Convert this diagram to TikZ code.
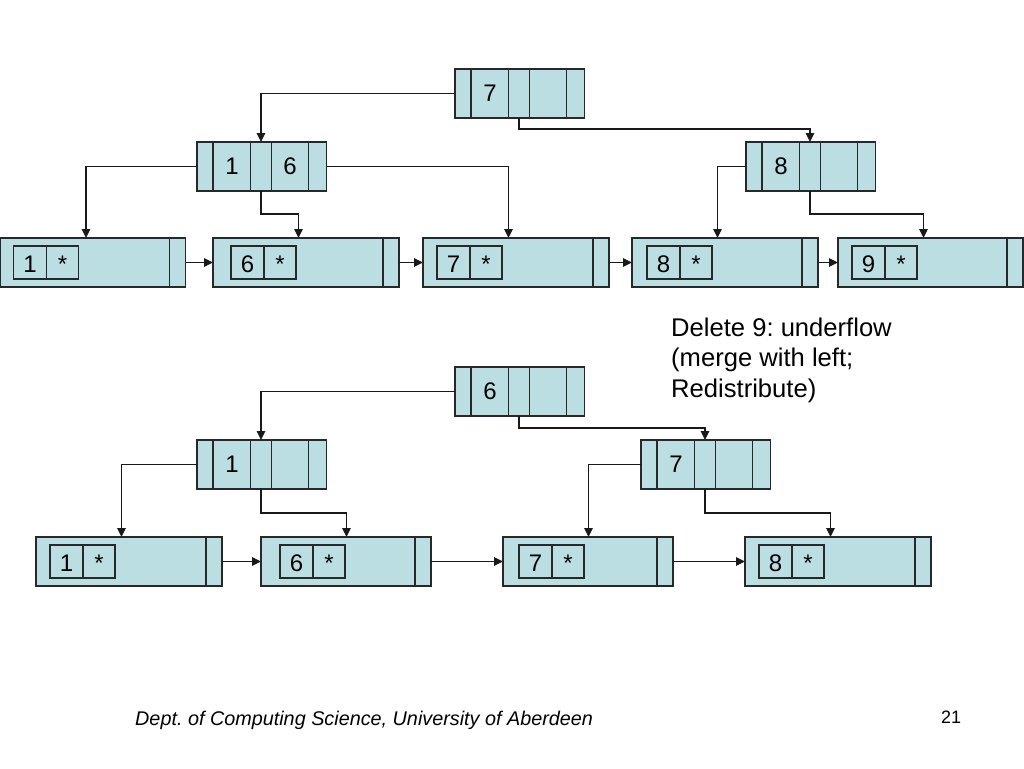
\documentclass[tikz,border=0pt]{standalone}
\usepackage{fontspec}
\setmainfont{Liberation Sans}
\usetikzlibrary{arrows.meta}
\frenchspacing
\definecolor{cellfill}{RGB}{187,222,226}
\definecolor{lineclr}{RGB}{40,40,40}
\tikzset{
  inode/.style={draw=lineclr, fill=cellfill, line width=1.1pt, rectangle, inner sep=0pt, outer sep=0pt, minimum width=129.5pt, minimum height=49pt},
  leafn/.style={draw=lineclr, fill=cellfill, line width=1.1pt, rectangle, inner sep=0pt, outer sep=0pt, minimum height=49pt},
  keybox/.style={draw=lineclr, fill=cellfill, line width=1.1pt, rectangle, inner sep=0pt, outer sep=0pt, minimum width=65pt, minimum height=33pt},
  cellline/.style={draw=lineclr, line width=1.1pt},
  keytxt/.style={inner sep=0pt, font=\fontsize{24}{28}\selectfont},
  conn/.style={draw=black!90, line width=1.2pt, -{Triangle[length=9pt,width=8.5pt]}},
  note/.style={inner sep=0pt, anchor=base west, font=\fontsize{25.6}{30}\selectfont},
  foot/.style={inner sep=0pt, anchor=base west, font=\fontsize{19.8}{22}\selectfont}
}
\newcommand\BTinner[5]{%
  \node[inode,anchor=north west] (#1) at (#2,#3) {};
  \foreach \dx in {16,53.5,74.5,111.5}
    \draw[cellline] ([xshift=\dx pt]#1.north west) -- ([xshift=\dx pt]#1.south west);
  \node[keytxt] (#1-k1) at ([xshift=35pt]#1.west) {#4};
  \node[keytxt] (#1-k2) at ([xshift=93pt]#1.west) {#5};
  \coordinate (#1-pt) at ([xshift=64pt]#1.north west);
  \coordinate (#1-pb) at ([xshift=64pt]#1.south west);
}
\newcommand\BTleaf[6]{%
  \node[leafn, minimum width=#4pt, anchor=north west] (#1) at (#2,#3) {};
  \draw[cellline] ([xshift=-16pt]#1.north east) -- ([xshift=-16pt]#1.south east);
  \node[keybox, anchor=north west] (#1-b) at ([xshift=#5pt, yshift=-8pt]#1.north west) {};
  \draw[cellline] ([xshift=33pt]#1-b.north west) -- ([xshift=33pt]#1-b.south west);
  \node[keytxt, anchor=base] (#1-k) at ([xshift=16.5pt, yshift=-26pt]#1-b.north west) {#6};
  \node[keytxt, anchor=base] (#1-s) at ([xshift=49pt, yshift=-26pt]#1-b.north west) {*};
  \coordinate (#1-in) at ([xshift=85.5pt]#1.north west);
}
\begin{document}
\begin{tikzpicture}[x=1pt,y=-1pt]
\useasboundingbox[fill=white] (0,0) rectangle (1024,768);

% ---------- top tree ----------
\BTinner{r}{455}{69}{7}{}
\BTinner{na}{197}{142}{1}{6}
\BTinner{nb}{746}{142}{8}{}

\BTleaf{la}{0.5}{238}{185}{13}{1}
\BTleaf{lb}{213}{238}{186}{18}{6}
\BTleaf{lc}{423}{238}{186}{14}{7}
\BTleaf{ld}{632}{238}{186}{15}{8}
\BTleaf{le}{838}{238}{185}{14}{9}

\draw[conn] (r.west) -| (na-pt);
\draw[conn] (r-pb) -- ++(0,11) -| (nb-pt);
\draw[conn] (na.west) -| (la-in);
\draw[conn] (na-pb) -- ++(0,23) -| (lb-in);
\draw[conn] (na.east) -| (lc-in);
\draw[conn] (nb.west) -| (ld-in);
\draw[conn] (nb-pb) -- ++(0,23) -| (le-in);

\draw[conn] (la.east) -- (lb.west);
\draw[conn] (lb.east) -- (lc.west);
\draw[conn] (lc.east) -- (ld.west);
\draw[conn] (ld.east) -- (le.west);

% ---------- note ----------
\node[note] (t1) at (671,336) {Delete 9: underflow};
\node[note] (t2) at (671,366.5) {(merge with left;};
\node[note] (t3) at (671,397) {Redistribute)};

% ---------- bottom tree ----------
\BTinner{s}{455}{367}{6}{}
\BTinner{ma}{197}{440}{1}{}
\BTinner{mb}{641}{440}{7}{}

\BTleaf{ka}{36}{537}{186}{14}{1}
\BTleaf{kb}{261}{537}{170}{19}{6}
\BTleaf{kc}{503}{537}{170}{16}{7}
\BTleaf{kd}{745}{537}{186}{14}{8}

\draw[conn] (s.west) -| (ma-pt);
\draw[conn] (s-pb) -- ++(0,12) -| (mb-pt);
\draw[conn] (ma.west) -| (ka-in);
\draw[conn] (ma-pb) -- ++(0,24) -| (kb-in);
\draw[conn] (mb.west) -| (kc-in);
\draw[conn] (mb-pb) -- ++(0,24) -| (kd-in);

\draw[conn] (ka.east) -- (kb.west);
\draw[conn] (kb.east) -- (kc.west);
\draw[conn] (kc.east) -- (kd.west);

% ---------- footer ----------
\node[foot] (ft) at (135,725) {\itshape Dept. of Computing Science, University of Aberdeen};
\node[foot, font=\fontsize{18}{22}\selectfont] (pg) at (941,723) {21};
\end{tikzpicture}
\end{document}
